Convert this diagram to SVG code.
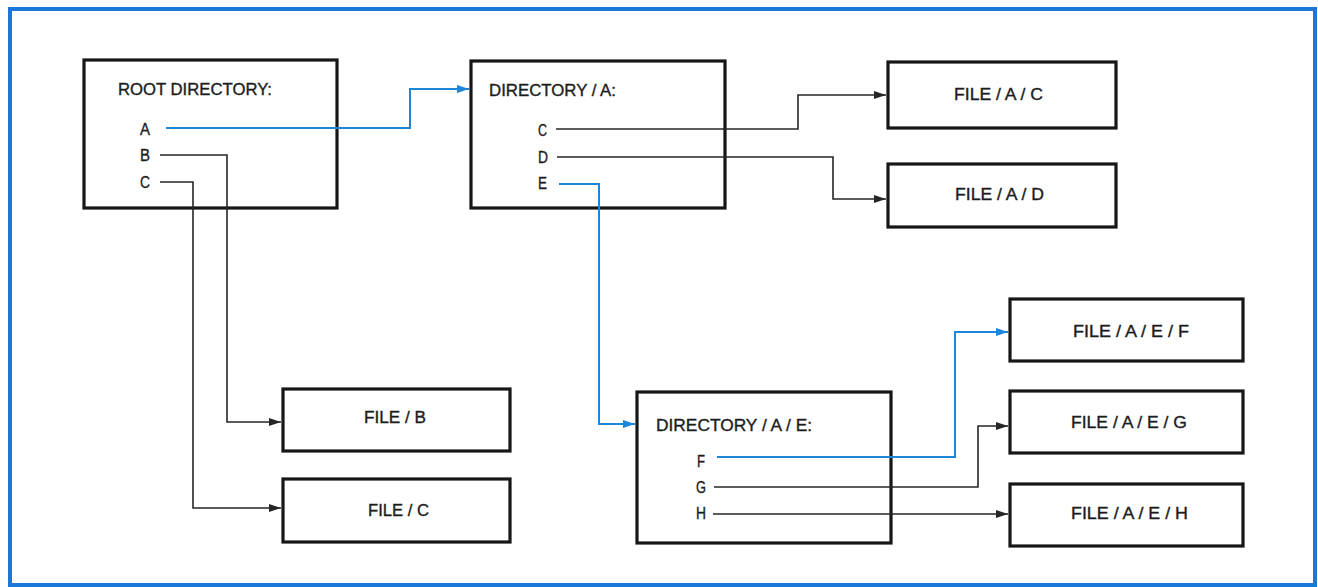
<svg xmlns="http://www.w3.org/2000/svg" width="1318" height="587" viewBox="0 0 1318 587">
<defs>
<style>
.box{fill:#fff;stroke:#161616;stroke-width:3.2}
.t{font-family:"Liberation Sans",Arial,sans-serif;font-size:17px;fill:#1c1c1c;stroke:#1c1c1c;stroke-width:0.35}
.c{fill:none;stroke:#262626;stroke-width:1.6}
.b{fill:none;stroke:#1e86d8;stroke-width:2}
</style>
<marker id="ak" markerWidth="13" markerHeight="10" refX="12" refY="5" orient="auto" markerUnits="userSpaceOnUse"><path d="M0,1 L12,5 L0,9 Z" fill="#262626"/></marker>
<marker id="ab" markerWidth="13" markerHeight="10" refX="12" refY="5" orient="auto" markerUnits="userSpaceOnUse"><path d="M0,1 L12,5 L0,9 Z" fill="#1e86d8"/></marker>
</defs>
<rect x="0" y="0" width="1318" height="587" fill="#fff"/>
<rect x="10" y="9" width="1305" height="576" fill="none" stroke="#1a78d8" stroke-width="4"/>

<g id="root">
<rect class="box" x="84" y="60" width="253" height="148"/>
<text class="t" x="118" y="95" textLength="154" lengthAdjust="spacingAndGlyphs">ROOT DIRECTORY:</text>
<text class="t" x="140" y="135" textLength="10" lengthAdjust="spacingAndGlyphs">A</text>
<text class="t" x="140" y="161" textLength="10" lengthAdjust="spacingAndGlyphs">B</text>
<text class="t" x="140" y="188" textLength="10" lengthAdjust="spacingAndGlyphs">C</text>
</g>

<g id="dirA">
<rect class="box" x="471" y="61" width="254" height="147"/>
<text class="t" x="489" y="96" textLength="127" lengthAdjust="spacingAndGlyphs">DIRECTORY / A:</text>
<text class="t" x="538" y="136" textLength="9" lengthAdjust="spacingAndGlyphs">C</text>
<text class="t" x="538" y="163" textLength="10" lengthAdjust="spacingAndGlyphs">D</text>
<text class="t" x="538" y="189" textLength="9" lengthAdjust="spacingAndGlyphs">E</text>
</g>

<g id="dirAE">
<rect class="box" x="637" y="392" width="254" height="151"/>
<text class="t" x="656" y="431" textLength="156" lengthAdjust="spacingAndGlyphs">DIRECTORY / A / E:</text>
<text class="t" x="697" y="467" textLength="8" lengthAdjust="spacingAndGlyphs">F</text>
<text class="t" x="696" y="493" textLength="10" lengthAdjust="spacingAndGlyphs">G</text>
<text class="t" x="696" y="519" textLength="10" lengthAdjust="spacingAndGlyphs">H</text>
</g>

<g id="fileB">
<rect class="box" x="283" y="389" width="227" height="62"/>
<text class="t" x="364" y="423" textLength="62" lengthAdjust="spacingAndGlyphs">FILE / B</text>
</g>
<g id="fileC">
<rect class="box" x="283" y="479" width="227" height="63"/>
<text class="t" x="368" y="516" textLength="61" lengthAdjust="spacingAndGlyphs">FILE / C</text>
</g>
<g id="fileAC">
<rect class="box" x="888" y="62" width="228" height="66"/>
<text class="t" x="954" y="100" textLength="89" lengthAdjust="spacingAndGlyphs">FILE / A / C</text>
</g>
<g id="fileAD">
<rect class="box" x="888" y="164" width="228" height="63"/>
<text class="t" x="955" y="200" textLength="89" lengthAdjust="spacingAndGlyphs">FILE / A / D</text>
</g>
<g id="fileAEF">
<rect class="box" x="1010" y="299" width="233" height="62"/>
<text class="t" x="1073" y="337" textLength="116" lengthAdjust="spacingAndGlyphs">FILE / A / E / F</text>
</g>
<g id="fileAEG">
<rect class="box" x="1010" y="391" width="233" height="62"/>
<text class="t" x="1071" y="428" textLength="116" lengthAdjust="spacingAndGlyphs">FILE / A / E / G</text>
</g>
<g id="fileAEH">
<rect class="box" x="1010" y="484" width="233" height="62"/>
<text class="t" x="1071" y="519" textLength="117" lengthAdjust="spacingAndGlyphs">FILE / A / E / H</text>
</g>

<g id="connectors">
<path class="b" d="M166,128 H410 V89 H469" marker-end="url(#ab)"/>
<path class="c" d="M160,155 H227 V422 H281" marker-end="url(#ak)"/>
<path class="c" d="M160,182 H193 V508 H281" marker-end="url(#ak)"/>
<path class="c" d="M556,129 H798 V95 H886" marker-end="url(#ak)"/>
<path class="c" d="M557,157 H833 V199 H886" marker-end="url(#ak)"/>
<path class="b" d="M559,184 H599 V424 H635" marker-end="url(#ab)"/>
<path class="b" d="M717,457 H955 V332 H1008" marker-end="url(#ab)"/>
<path class="c" d="M714,487 H978 V426 H1008" marker-end="url(#ak)"/>
<path class="c" d="M713,514 H1008" marker-end="url(#ak)"/>
</g>
</svg>
